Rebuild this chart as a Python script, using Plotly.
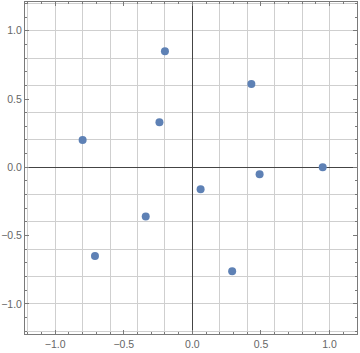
import plotly.graph_objects as go

xs = [-0.80, -0.24, -0.20, 0.43, 0.49, 0.95, 0.06, 0.29, -0.34, -0.71]
ys = [0.20, 0.33, 0.85, 0.61, -0.05, 0.00, -0.16, -0.76, -0.36, -0.65]

x_range = [-1.22, 1.20]
y_range = [-1.22, 1.21]
major_ticks = [-1.0, -0.5, 0.0, 0.5, 1.0]
major_labels = ["\u22121.0", "\u22120.5", "0.0", "0.5", "1.0"]

frame = "#7a7a7a"
grid = "#cfcfcf"

fig = go.Figure()
fig.add_trace(go.Scatter(
    x=xs, y=ys, mode="markers",
    marker=dict(color="#5E81B5", size=8, line=dict(width=0)),
    hoverinfo="skip",
))
# dummy trace for the grid axes
fig.add_trace(go.Scatter(x=[None], y=[None], xaxis="x2", yaxis="y2", showlegend=False))

common = dict(
    tickvals=major_ticks, ticktext=major_labels, automargin=False,
    ticks="inside", ticklen=4, tickcolor=frame, tickwidth=1,
    minor=dict(dtick=0.1, tick0=0, ticks="inside", ticklen=2, tickcolor=frame, showgrid=False),
    showgrid=False, zeroline=True, zerolinecolor="#444444", zerolinewidth=1,
    showline=True, linecolor=frame, linewidth=1, mirror="allticks",
    tickfont=dict(family="Liberation Sans", size=10.5, color="#666666"),
)
grid_axis = dict(tick0=0, dtick=0.2, showgrid=True, gridcolor=grid, gridwidth=1,
                 showticklabels=False, zeroline=False, ticks="", automargin=False)
fig.update_layout(
    width=360, height=353,
    margin=dict(l=25, r=3, t=2, b=19, autoexpand=False),
    paper_bgcolor="white", plot_bgcolor="white",
    showlegend=False,
    xaxis=dict(range=x_range, **common),
    yaxis=dict(range=y_range, ticklabelstandoff=0, **common),
    xaxis2=dict(range=x_range, overlaying="x", **grid_axis),
    yaxis2=dict(range=y_range, overlaying="y", **grid_axis),
)

fig.write_html("out.html", config={"displayModeBar": False},
               post_script="document.body.style.margin='0';")
